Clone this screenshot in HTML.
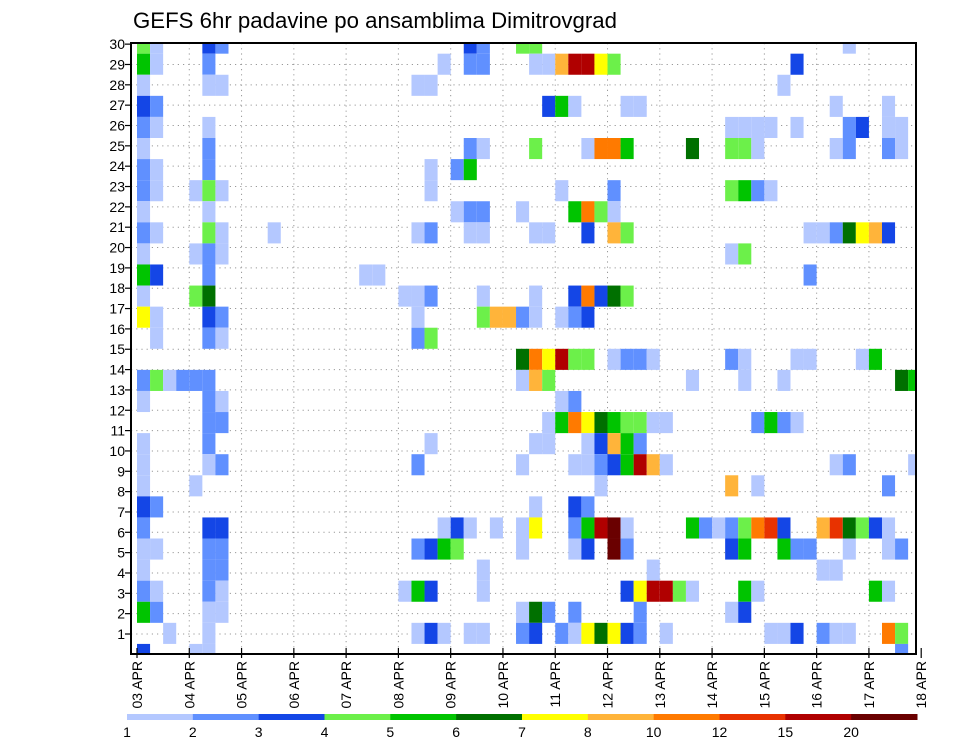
<!DOCTYPE html>
<html><head><meta charset="utf-8"><title>GEFS 6hr padavine</title>
<style>html,body{margin:0;padding:0;background:#fff;}svg{display:block;font-family:"Liberation Sans",sans-serif;}</style>
</head><body>
<svg id="chart" width="960" height="742" viewBox="0 0 960 742" xmlns="http://www.w3.org/2000/svg">
<defs><clipPath id="plotclip"><rect x="131" y="43" width="785" height="611"/></clipPath></defs>
<rect x="0" y="0" width="960" height="742" fill="#fff"/>
<text x="133" y="28" font-size="22" textLength="484" lengthAdjust="spacingAndGlyphs" fill="#000">GEFS 6hr padavine po ansamblima Dimitrovgrad</text>
<g id="grid"></g>
<g id="cells" clip-path="url(#plotclip)"></g>
<rect x="131" y="43" width="785" height="611" fill="none" stroke="#000" stroke-width="2"/>
<g id="yaxis"></g>
<g id="xaxis"></g>
<g id="legend"></g>
</svg>
<script>
// ---- data ----
const dayLabels = ["03 APR","04 APR","05 APR","06 APR","07 APR","08 APR","09 APR","10 APR","11 APR","12 APR","13 APR","14 APR","15 APR","16 APR","17 APR","18 APR"];
const memberTicks = [1,2,3,4,5,6,7,8,9,10,11,12,13,14,15,16,17,18,19,20,21,22,23,24,25,26,27,28,29,30];
const levelBounds = [1,2,3,4,5,6,7,8,10,12,15,20];
const levelColors = ["#b4c8ff","#6090ff","#1446e6","#6cf04a","#00c400","#007000","#ffff00","#ffb43a","#ff7a00","#e83200","#b00000","#6a0000"];
// [member row, 6-hr step, precipitation mm]
const cells = [
[29,0,4.5],[29,1,1.5],[29,5,3.5],[29,6,2.5],[29,25,3.5],[29,26,2.5],[29,29,4.5],[29,30,4.5],[29,54,1.5],
[28,0,5.5],[28,1,1.5],[28,5,2.5],[28,23,1.5],[28,25,2.5],[28,26,2.5],[28,30,1.5],[28,31,1.5],[28,32,9],[28,33,17],[28,34,17],[28,35,7.5],[28,36,4.5],[28,50,3.5],
[27,0,1.5],[27,5,1.5],[27,6,1.5],[27,21,1.5],[27,22,1.5],[27,49,1.5],
[26,0,3.5],[26,1,2.5],[26,31,3.5],[26,32,5.5],[26,33,1.5],[26,37,1.5],[26,38,1.5],[26,53,1.5],[26,57,1.5],
[25,0,2.5],[25,1,1.5],[25,5,1.5],[25,45,1.5],[25,46,1.5],[25,47,1.5],[25,48,1.5],[25,50,1.5],[25,54,2.5],[25,55,3.5],[25,57,1.5],[25,58,1.5],
[24,0,1.5],[24,5,2.5],[24,25,2.5],[24,26,1.5],[24,30,4.5],[24,34,1.5],[24,35,11],[24,36,11],[24,37,5.5],[24,42,6.5],[24,45,4.5],[24,46,4.5],[24,47,1.5],[24,53,1.5],[24,54,2.5],[24,57,2.5],[24,58,1.5],
[23,0,2.5],[23,1,1.5],[23,5,2.5],[23,22,1.5],[23,24,2.5],[23,25,5.5],
[22,0,2.5],[22,1,1.5],[22,4,1.5],[22,5,4.5],[22,6,1.5],[22,22,1.5],[22,32,1.5],[22,36,2.5],[22,45,4.5],[22,46,5.5],[22,47,2.5],[22,48,1.5],
[21,0,1.5],[21,5,1.5],[21,24,1.5],[21,25,2.5],[21,26,2.5],[21,29,1.5],[21,33,5.5],[21,34,11],[21,35,4.5],[21,36,1.5],
[20,0,2.5],[20,1,1.5],[20,5,4.5],[20,6,1.5],[20,10,1.5],[20,21,1.5],[20,22,2.5],[20,25,1.5],[20,26,1.5],[20,30,1.5],[20,31,1.5],[20,34,3.5],[20,36,9],[20,37,4.5],[20,51,1.5],[20,52,1.5],[20,53,2.5],[20,54,6.5],[20,55,7.5],[20,56,9],[20,57,3.5],
[19,0,1.5],[19,4,1.5],[19,5,2.5],[19,6,1.5],[19,45,1.5],[19,46,4.5],
[18,0,5.5],[18,1,3.5],[18,5,2.5],[18,17,1.5],[18,18,1.5],[18,51,2.5],
[17,0,1.5],[17,4,4.5],[17,5,6.5],[17,20,1.5],[17,21,1.5],[17,22,2.5],[17,26,1.5],[17,30,1.5],[17,33,3.5],[17,34,11],[17,35,3.5],[17,36,6.5],[17,37,4.5],
[16,0,7.5],[16,1,1.5],[16,5,3.5],[16,6,2.5],[16,21,1.5],[16,26,4.5],[16,27,9],[16,28,9],[16,29,2.5],[16,30,1.5],[16,32,1.5],[16,33,2.5],[16,34,3.5],
[15,1,1.5],[15,5,2.5],[15,6,1.5],[15,21,2.5],[15,22,4.5],
[14,29,6.5],[14,30,11],[14,31,7.5],[14,32,17],[14,33,4.5],[14,34,4.5],[14,36,1.5],[14,37,2.5],[14,38,2.5],[14,39,1.5],[14,45,2.5],[14,46,1.5],[14,50,1.5],[14,51,1.5],[14,55,1.5],[14,56,5.5],
[13,0,2.5],[13,1,4.5],[13,2,1.5],[13,3,2.5],[13,4,2.5],[13,5,2.5],[13,29,1.5],[13,30,9],[13,31,4.5],[13,42,1.5],[13,46,1.5],[13,49,1.5],[13,58,6.5],[13,59,5.5],
[12,0,1.5],[12,5,2.5],[12,6,1.5],[12,32,1.5],[12,33,2.5],
[11,5,2.5],[11,6,2.5],[11,31,1.5],[11,32,5.5],[11,33,11],[11,34,7.5],[11,35,6.5],[11,36,5.5],[11,37,4.5],[11,38,4.5],[11,39,1.5],[11,40,1.5],[11,47,2.5],[11,48,5.5],[11,49,2.5],[11,50,1.5],
[10,0,1.5],[10,5,2.5],[10,22,1.5],[10,30,1.5],[10,31,1.5],[10,34,1.5],[10,35,3.5],[10,36,9],[10,37,5.5],[10,38,2.5],
[9,0,1.5],[9,5,1.5],[9,6,2.5],[9,21,2.5],[9,29,1.5],[9,33,1.5],[9,34,1.5],[9,35,2.5],[9,36,3.5],[9,37,5.5],[9,38,17],[9,39,9],[9,40,1.5],[9,53,1.5],[9,54,2.5],[9,59,1.5],
[8,0,1.5],[8,4,1.5],[8,35,1.5],[8,45,9],[8,47,1.5],[8,57,2.5],
[7,0,3.5],[7,1,2.5],[7,30,1.5],[7,33,3.5],[7,34,2.5],
[6,0,2.5],[6,5,3.5],[6,6,3.5],[6,23,1.5],[6,24,3.5],[6,25,1.5],[6,27,1.5],[6,29,1.5],[6,30,7.5],[6,33,2.5],[6,34,5.5],[6,35,17],[6,36,22],[6,37,1.5],[6,42,5.5],[6,43,2.5],[6,44,1.5],[6,45,2.5],[6,46,4.5],[6,47,11],[6,48,13.5],[6,49,3.5],[6,52,9],[6,53,13.5],[6,54,6.5],[6,55,4.5],[6,56,3.5],[6,57,1.5],
[5,0,1.5],[5,1,1.5],[5,5,2.5],[5,6,2.5],[5,21,2.5],[5,22,3.5],[5,23,5.5],[5,24,4.5],[5,29,1.5],[5,33,1.5],[5,34,3.5],[5,36,22],[5,37,2.5],[5,45,3.5],[5,46,5.5],[5,49,5.5],[5,50,2.5],[5,51,2.5],[5,54,1.5],[5,57,1.5],[5,58,2.5],
[4,0,1.5],[4,5,2.5],[4,6,2.5],[4,26,1.5],[4,39,1.5],[4,52,1.5],[4,53,1.5],
[3,0,2.5],[3,1,1.5],[3,5,2.5],[3,6,1.5],[3,20,1.5],[3,21,5.5],[3,22,3.5],[3,26,1.5],[3,37,3.5],[3,38,7.5],[3,39,17],[3,40,17],[3,41,4.5],[3,42,1.5],[3,46,5.5],[3,47,1.5],[3,56,5.5],[3,57,1.5],
[2,0,5.5],[2,1,2.5],[2,5,1.5],[2,6,1.5],[2,29,1.5],[2,30,6.5],[2,31,2.5],[2,33,2.5],[2,38,2.5],[2,45,1.5],[2,46,3.5],
[1,2,1.5],[1,5,1.5],[1,21,1.5],[1,22,3.5],[1,23,1.5],[1,25,1.5],[1,26,1.5],[1,29,2.5],[1,30,3.5],[1,32,2.5],[1,33,1.5],[1,34,7.5],[1,35,6.5],[1,36,7.5],[1,37,3.5],[1,38,2.5],[1,40,1.5],[1,48,1.5],[1,49,1.5],[1,50,3.5],[1,52,2.5],[1,53,1.5],[1,54,1.5],[1,57,11],[1,58,4.5],
[0,0,3.5],[0,4,1.5],[0,5,1.5],[0,58,2.5]
];

// ---- scales ----
const NS = "http://www.w3.org/2000/svg";
const X0 = 137, DAYW = 52.28, STEPW = DAYW/4;
const PL = 131, PR = 916, PT = 43, PB = 654;
const CELLH = 21.08, CELLBASE = 665;
function xStep(s){ return X0 + s*STEPW; }
function xDay(d){ return X0 + d*DAYW; }
function yCellTop(m){ return CELLBASE - CELLH*(m+1); }
function yTick(n){ return 634 - 20.34*(n-1); }
function colorFor(v){ let i=0; for(let b=0;b<levelBounds.length;b++){ if(v>=levelBounds[b]) i=b; } return levelColors[i]; }
function mk(tag, attrs, parent){ const e=document.createElementNS(NS,tag); for(const k in attrs) e.setAttribute(k,attrs[k]); parent.appendChild(e); return e; }

// grid
const grid = document.getElementById('grid');
memberTicks.forEach(n=>{
  if(n>=30) return;
  const l = mk('line',{x1:PL,x2:PR,y1:yTick(n),y2:yTick(n),stroke:'#999','stroke-width':1,'stroke-dasharray':'1.2 4'},grid);
  
  
});
dayLabels.forEach((d,i)=>{
  if(i===0||i===dayLabels.length-1) return;
  const l = mk('line',{x1:xDay(i),x2:xDay(i),y1:PT,y2:PB,stroke:'#999','stroke-width':1,'stroke-dasharray':'1.2 4'},grid);
  
  
});

// cells
const cg = document.getElementById('cells');
cells.forEach(c=>{
  const r = mk('rect',{x:xStep(c[1]).toFixed(2),y:yCellTop(c[0]).toFixed(2),width:STEPW.toFixed(2),height:CELLH,fill:colorFor(c[2])},cg);
  
  
});

// y axis
const ya = document.getElementById('yaxis');
memberTicks.forEach(n=>{
  const y=yTick(n);
  const t = mk('line',{x1:PL-6,x2:PL,y1:y,y2:y,stroke:'#000','stroke-width':1.2},ya);
  
  
  const tx = mk('text',{x:PL-6,y:y+5,'text-anchor':'end','font-size':14,fill:'#000'},ya);
  tx.textContent = String(n);
  
  
});

// x axis
const xa = document.getElementById('xaxis');
dayLabels.forEach((d,i)=>{
  const x=xDay(i);
  const t = mk('line',{x1:x,x2:x,y1:PB-6,y2:PB+4,stroke:'#000','stroke-width':1.2},xa);
  
  
  const tx = mk('text',{x:0,y:0,'text-anchor':'end','font-size':14,fill:'#000',transform:'translate('+(x+5)+',661) rotate(-90)'},xa);
  tx.textContent = d;
  
  
});

// legend
const lg = document.getElementById('legend');
const LX0 = 127, LW = (917-127)/levelColors.length;
levelColors.forEach((c,i)=>{
  const r = mk('rect',{x:(LX0+i*LW).toFixed(2),y:714,width:(LW+0.5).toFixed(2),height:6,fill:c},lg);
  
  
});
levelBounds.forEach((b,i)=>{
  const tx = mk('text',{x:(LX0+i*LW).toFixed(2),y:737,'text-anchor':'middle','font-size':14,fill:'#000'},lg);
  tx.textContent = String(b);
  
  
});
</script>
</body></html>
